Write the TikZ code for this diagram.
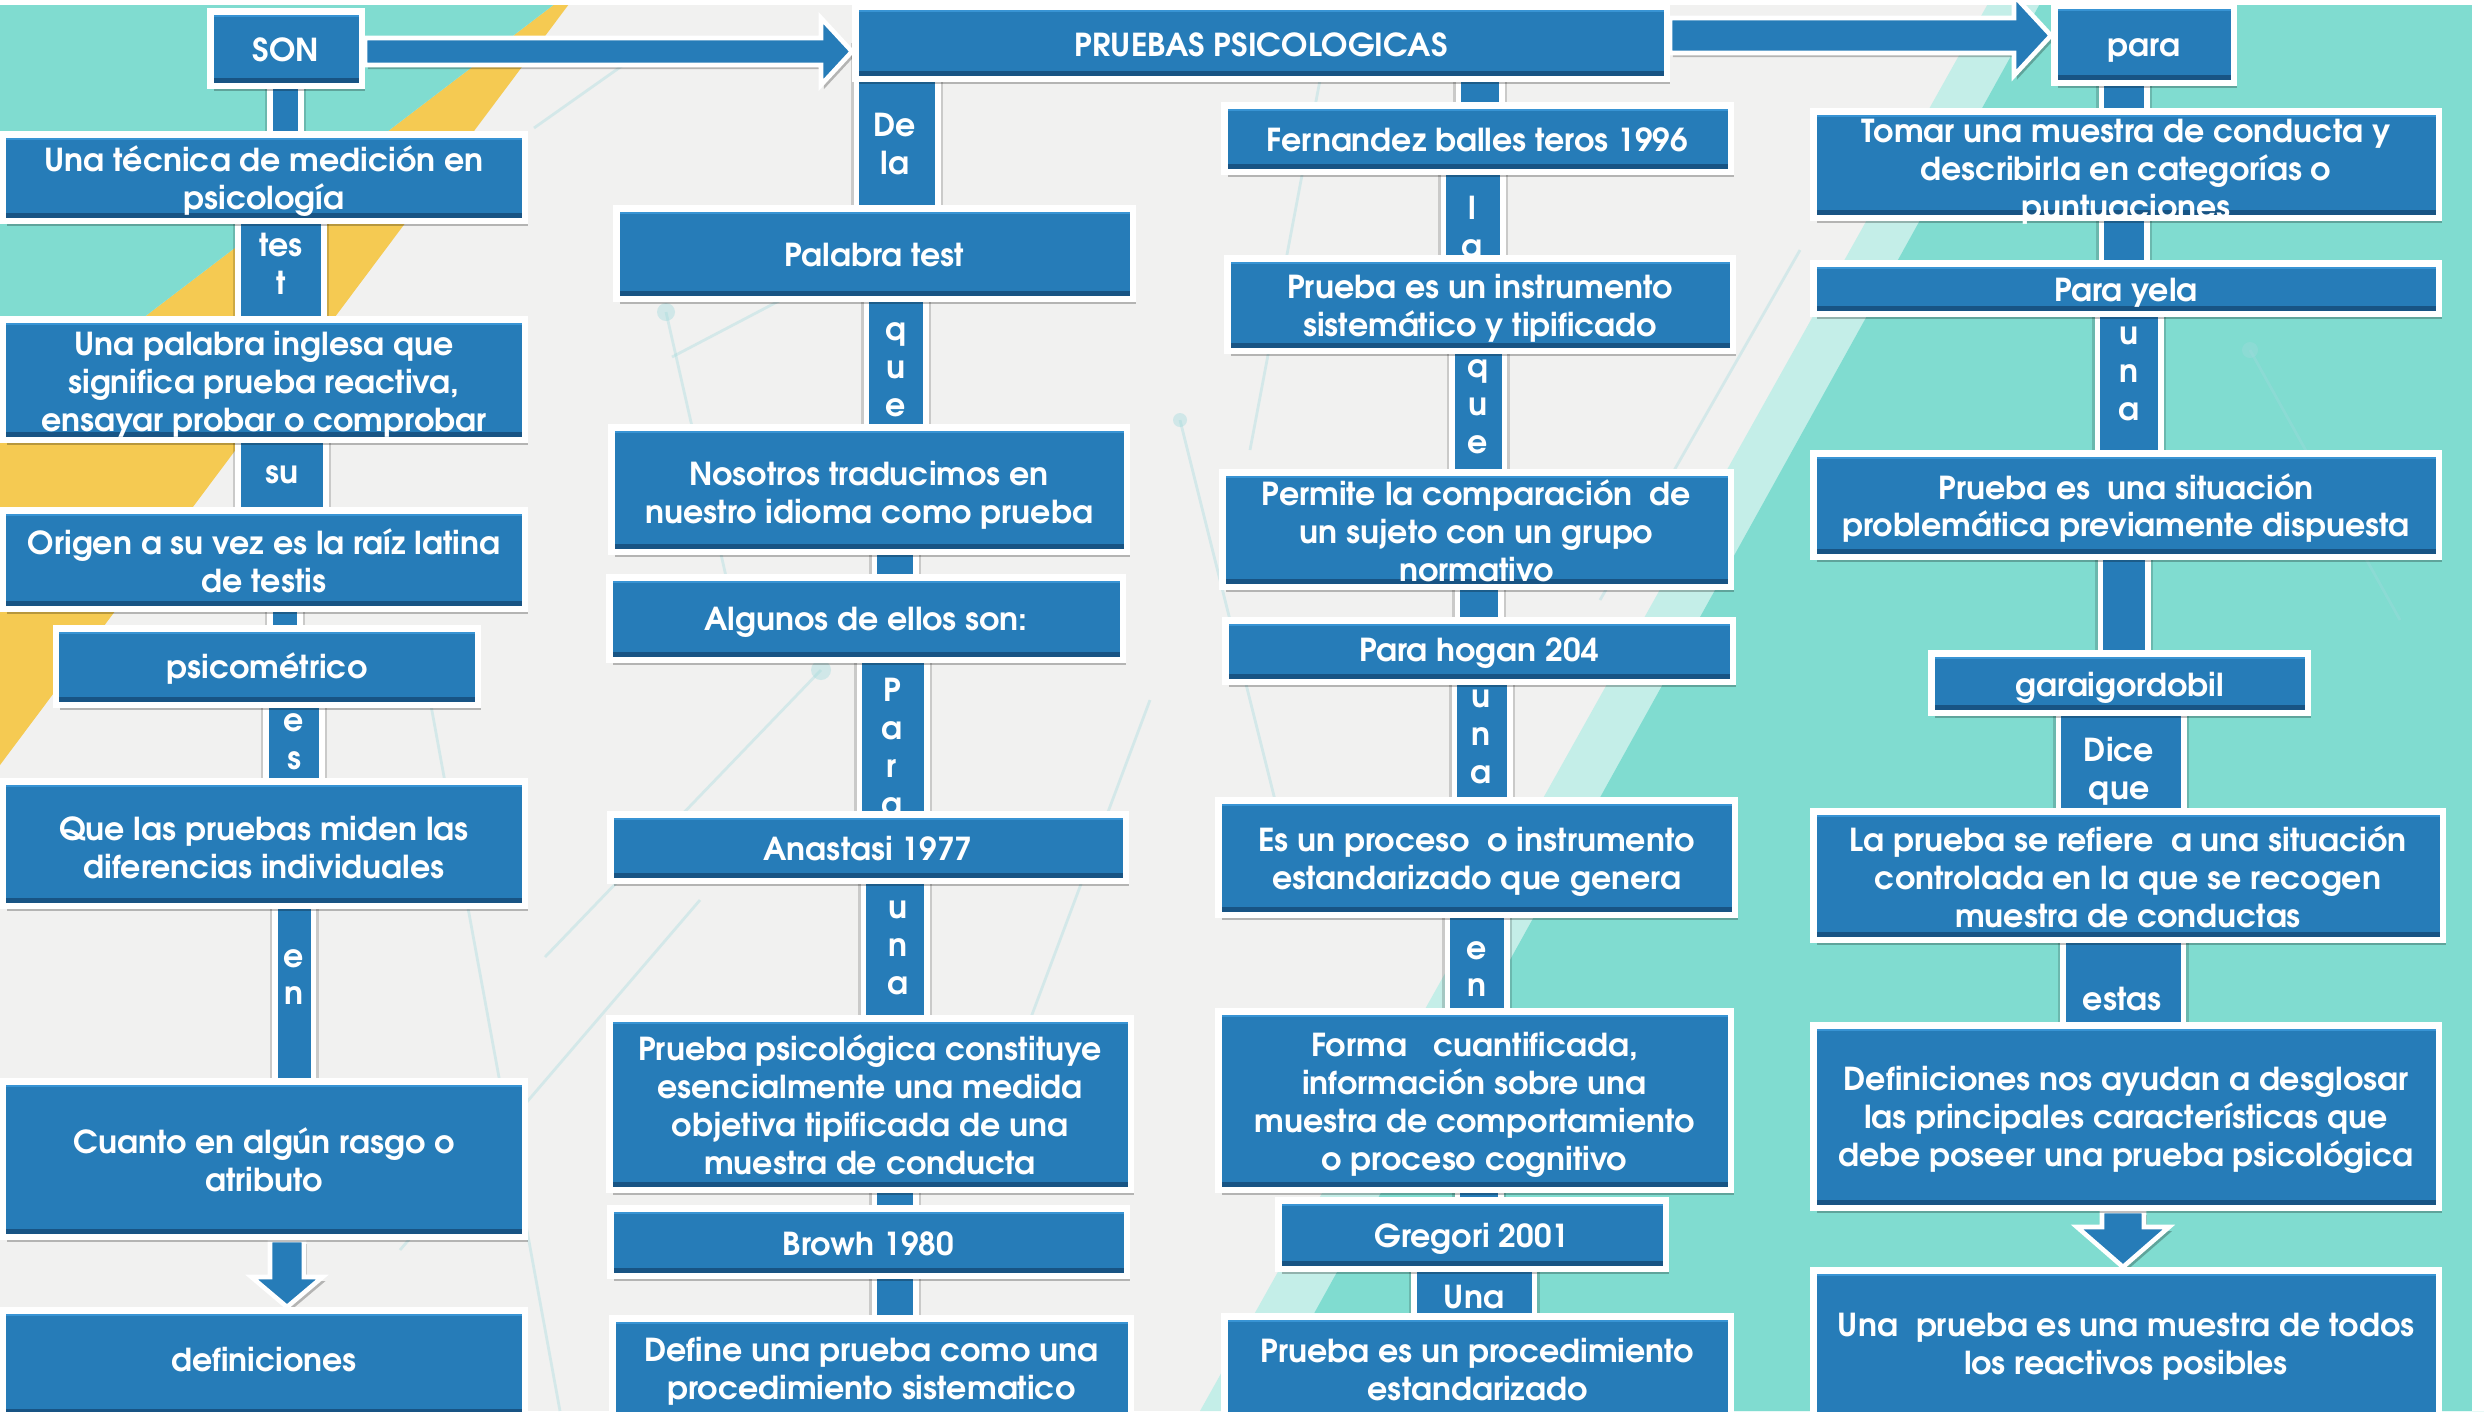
\documentclass[tikz,border=0pt]{standalone}
\usepackage{fontspec}
\setmainfont{TeX Gyre Adventor}
\usetikzlibrary{shadows,calc}
\definecolor{boxblue}{RGB}{38,124,184}
\definecolor{boxdark}{RGB}{24,84,132}
\definecolor{boxlight}{RGB}{56,148,212}
\definecolor{bggray}{RGB}{241,241,240}
\definecolor{teal1}{RGB}{128,220,208}
\definecolor{teal2}{RGB}{196,238,232}
\definecolor{ylw}{RGB}{245,202,82}
\definecolor{netc}{RGB}{160,218,220}
\pgfdeclarelayer{bgl}
\pgfdeclarelayer{barl}
\pgfsetlayers{bgl,barl,main}
\newcommand\bxfont{\fontsize{9}{10.8}\selectfont\bfseries}
\tikzset{
 bbox/.style={draw=white, line width=1.85pt, fill=boxblue, inner sep=0pt,
   drop shadow={shadow xshift=1pt, shadow yshift=-1.6pt, opacity=0.25, fill=black},
   path picture={
     \fill[boxdark] (path picture bounding box.south west) rectangle ([yshift=2.2pt]path picture bounding box.south east);
     \fill[boxlight] (path picture bounding box.north west) rectangle ([yshift=-1.6pt]path picture bounding box.north east);
   }},
 btext/.style={text=white, font=\bxfont, align=center, inner sep=0pt},
 barrow/.style={fill=boxblue, draw=white, line width=1.3pt, line join=miter,
   drop shadow={shadow xshift=0.8pt, shadow yshift=-1.2pt, opacity=0.25, fill=black}},
 netline/.style={netc, line width=0.8pt, opacity=0.35},
}
\newcommand\bx[7][1]{%
  \pgfmathsetmacro\mybw{(#5-#3-6.5)*0.01}%
  \pgfmathsetmacro\mybh{(#6-#4-6.5)*0.01}%
  \node[bbox, minimum width=\mybw cm, minimum height=\mybh cm] (#2) at ({(#3+#5)/2},{(#4+#6)/2}) {};
  \node[btext] (#2-t) at ({(#3+#5)/2},{(#4+#6)/2+#1}) {#7};}
\newcommand\barlink[4]{%
  \pgfmathsetmacro\mybwa{(#4+16)*0.01}%
  \pgfmathsetmacro\mybwb{#4*0.01}%
  \draw[black, opacity=0.16, line width=\mybwa cm] (#1.center -| #3,0) -- (#2.center -| #3,0);
  \draw[white, line width=0.055cm, double=boxblue, double distance=\mybwb cm] (#1.center -| #3,0) -- (#2.center -| #3,0);}
\begin{document}
\begin{tikzpicture}[x=0.01cm,y=-0.01cm]
\path[use as bounding box] (0,0) rectangle (2484,1411);
\begin{pgfonlayer}{bgl}
\fill[bggray] (0,0) rectangle (2484,1411);
\fill[teal2] (1990,0) -- (2484,0) -- (2484,1411) -- (1200,1411) -- cycle;
\fill[teal1] (2042,0) -- (2484,0) -- (2484,1411) -- (1260,1411) -- cycle;
\fill[ylw] (560,0) -- (572,0) -- (0,765) -- (0,427) -- cycle;
\fill[teal1] (0,0) -- (560,0) -- (0,427) -- cycle;
\draw[netline] (534,128) -- (643,51);
\draw[netline] (666,312) -- (740,638);
\draw[netline] (672,357) -- (878,249);
\draw[netline] (545,957) -- (821,670);
\draw[netline] (430,700) -- (560,1411);
\draw[netline] (700,900) -- (400,1250);
\draw[netline] (1180,420) -- (1300,900);
\draw[netline] (1150,700) -- (1000,1100);
\draw[netline] (1320,80) -- (1250,450);
\draw[netline] (1600,600) -- (1800,250);
\draw[netline] (2250,350) -- (2400,620);
\fill[netc, opacity=0.4] (666,312) circle (9) (740,638) circle (7) (821,670) circle (10) (300,740) circle (8) (1300,900) circle (8) (1180,420) circle (7) (2250,350) circle (8);
\fill[white] (0,0) rectangle (2484,5);
\fill[white] (2472,0) rectangle (2484,1411);
\end{pgfonlayer}
\clip (0,0) rectangle (2484,1411);
% column 1
\bx{son}{207}{8}{365}{89}{SON}
\bx[4]{tecnica}{0}{131}{528}{224}{Una técnica de medición en\\psicología}
\bx[5]{palabraA}{0}{316}{528}{443}{Una palabra inglesa que\\significa prueba reactiva,\\ensayar probar o comprobar}
\bx{origen}{0}{507}{528}{612}{Origen a su vez es la raíz latina\\de testis}
\bx[2]{psico}{53}{625}{481}{708}{psicométrico}
\bx[4]{quelas}{0}{778}{528}{909}{Que las pruebas miden las\\diferencias individuales}
\bx{cuanto}{0}{1078}{528}{1240}{Cuanto en algún rasgo o\\atributo}
\bx[-4]{defs}{0}{1307}{528}{1420}{definiciones}
% column 2
\bx[2]{pruebas}{852}{3}{1670}{82}{PRUEBAS PSICOLOGICAS}
\bx{palabra}{613}{205}{1136}{302}{Palabra test}
\bx[6]{nosotros}{608}{424}{1130}{555}{Nosotros traducimos en\\nuestro idioma como prueba}
\bx[4]{algunos}{606}{574}{1126}{663}{Algunos de ellos son:}
\bx{anastasi}{607}{811}{1129}{884}{Anastasi 1977}
\bx{pruebapsic}{606}{1015}{1134}{1193}{Prueba psicológica constituye\\esencialmente una medida\\objetiva tipificada de una\\muestra de conducta}
\bx[2]{browh}{607}{1205}{1130}{1279}{Browh 1980}
\bx{define}{609}{1315}{1134}{1425}{Define una prueba como una\\procedimiento sistematico}
% column 3
\bx{fernandez}{1221}{102}{1734}{175}{Fernandez balles teros 1996}
\bx[4]{instrumento}{1224}{255}{1736}{354}{Prueba es un instrumento\\sistemático y tipificado}
\bx{permite}{1219}{469}{1734}{590}{Permite la comparación\ \ de\\un sujeto con un grupo\\normativo}
\bx[2]{hogan}{1222}{617}{1736}{685}{Para hogan 204}
\bx[4]{proceso}{1215}{797}{1738}{918}{Es un proceso\ \ o instrumento\\estandarizado que genera}
\bx[4]{forma}{1215}{1008}{1734}{1193}{Forma\ \ \ cuantificada,\\información sobre una\\muestra de comportamiento\\o proceso cognitivo}
\bx[4]{gregori}{1275}{1197}{1669}{1272}{Gregori 2001}
\bx{procedimiento}{1221}{1313}{1734}{1425}{Prueba es un procedimiento\\estandarizado}
% column 4
\bx[6]{para}{2051}{2}{2237}{86}{para}
\bx[7]{tomar}{1810}{108}{2442}{221}{Tomar una muestra de conducta y\\describirla en categorías o\\puntuaciones}
\bx[4]{yela}{1810}{260}{2442}{317}{Para yela}
\bx[3]{situacion}{1810}{450}{2442}{560}{Prueba es\ \ una situación\\problemática previamente dispuesta}
\bx[5]{garai}{1928}{650}{2311}{716}{garaigordobil}
\bx{laprueba}{1810}{808}{2446}{943}{La prueba se refiere\ \ a una situación\\controlada en la que se recogen\\muestra de conductas}
\bx[3]{definic}{1810}{1022}{2442}{1211}{Definiciones nos ayudan a desglosar\\las principales características que\\debe poseer una prueba psicológica}
\bx{unaprueba}{1810}{1267}{2442}{1425}{Una\ \ prueba es una muestra de todos\\los reactivos posibles}
\begin{pgfonlayer}{barl}
\barlink{son}{tecnica}{285.5}{25}
\barlink{tecnica}{palabraA}{281}{80}
\barlink{palabraA}{origen}{282}{82}
\barlink{origen}{psico}{285}{24}
\barlink{psico}{quelas}{294}{50}
\barlink{quelas}{cuanto}{294}{33}
\barlink{pruebas}{palabra}{897}{76}
\barlink{palabra}{nosotros}{896}{54}
\barlink{nosotros}{algunos}{895}{36}
\barlink{algunos}{anastasi}{893}{62}
\barlink{anastasi}{pruebapsic}{895}{58}
\barlink{pruebapsic}{browh}{895}{36}
\barlink{browh}{define}{895}{36}
\barlink{pruebas}{fernandez}{1480}{38}
\barlink{fernandez}{instrumento}{1473}{54}
\barlink{instrumento}{permite}{1478}{47}
\barlink{permite}{hogan}{1479}{38}
\barlink{hogan}{proceso}{1482}{50}
\barlink{proceso}{forma}{1477}{54}
\barlink{forma}{gregori}{1479}{38}
\barlink{gregori}{procedimiento}{1474}{115}
\barlink{para}{tomar}{2124}{40}
\barlink{tomar}{yela}{2124}{40}
\barlink{yela}{situacion}{2129}{58}
\barlink{situacion}{garai}{2124}{42}
\barlink{garai}{laprueba}{2121}{120}
\barlink{laprueba}{definic}{2123}{115}
% block arrows
\draw[barrow] ($(son.east)+(0,-10.5)$) -- ($(son.east -| pruebas.west)+(-31,-10.5)$) -- ($(son.east -| pruebas.west)+(-31,-30.5)$) -- ($(son.east -| pruebas.west)+(0,3)$) -- ($(son.east -| pruebas.west)+(-31,36.5)$) -- ($(son.east -| pruebas.west)+(-31,16.5)$) -- ($(son.east)+(0,16.5)$) -- cycle;
\draw[barrow] ($(pruebas.east)+(0,-24.5)$) -- ($(pruebas.east -| para.west)+(-37,-24.5)$) -- ($(pruebas.east -| para.west)+(-37,-47)$) -- ($(pruebas.east -| para.west)+(0,-7)$) -- ($(pruebas.east -| para.west)+(-37,33)$) -- ($(pruebas.east -| para.west)+(-37,10.5)$) -- ($(pruebas.east)+(0,10.5)$) -- cycle;
\draw[barrow] ($(cuanto.south)+(6,0)$) -- ($(defs.north -| cuanto.south)+(6,-30)$) -- ($(defs.north -| cuanto.south)+(-12.5,-30)$) -- ($(defs.north -| cuanto.south)+(23,0)$) -- ($(defs.north -| cuanto.south)+(58.5,-30)$) -- ($(defs.north -| cuanto.south)+(40,-30)$) -- ($(cuanto.south)+(40,0)$) -- cycle;
\draw[barrow] ($(definic.south)+(-24,0)$) -- ($(unaprueba.north -| definic.south)+(-24,-40)$) -- ($(unaprueba.north -| definic.south)+(-49,-40)$) -- ($(unaprueba.north -| definic.south)+(-3,0)$) -- ($(unaprueba.north -| definic.south)+(43,-40)$) -- ($(unaprueba.north -| definic.south)+(18,-40)$) -- ($(definic.south)+(18,0)$) -- cycle;
% bar labels
\node[btext] (ltes) at (281,264) {tes\\t};
\node[btext] (lsu) at (282,475) {su};
\node[btext] (les) at (294,742) {e\\s};
\node[btext] (len) at (294,977) {e\\n};
\node[btext] (ldela) at (895,144) {De\\la};
\node[btext] (lque) at (896,370) {q\\u\\e};
\node[btext] (lpara) at (892,747) {P\\a\\r\\a};
\node[btext] (luna) at (898,948) {u\\n\\a};
\node[btext] (lla) at (1472,227) {l\\a};
\node[btext] (lqueb) at (1478,407) {q\\u\\e};
\node[btext] (lunab) at (1481,737) {u\\n\\a};
\node[btext] (lenb) at (1477,969) {e\\n};
\node[btext] (lUna) at (1474,1297) {Una};
\node[btext] (lunac) at (2129,374) {u\\n\\a};
\node[btext] (ldice) at (2119,771) {Dice\\que};
\node[btext] (lestas) at (2122,999) {estas};
\end{pgfonlayer}
\end{tikzpicture}
\end{document}
